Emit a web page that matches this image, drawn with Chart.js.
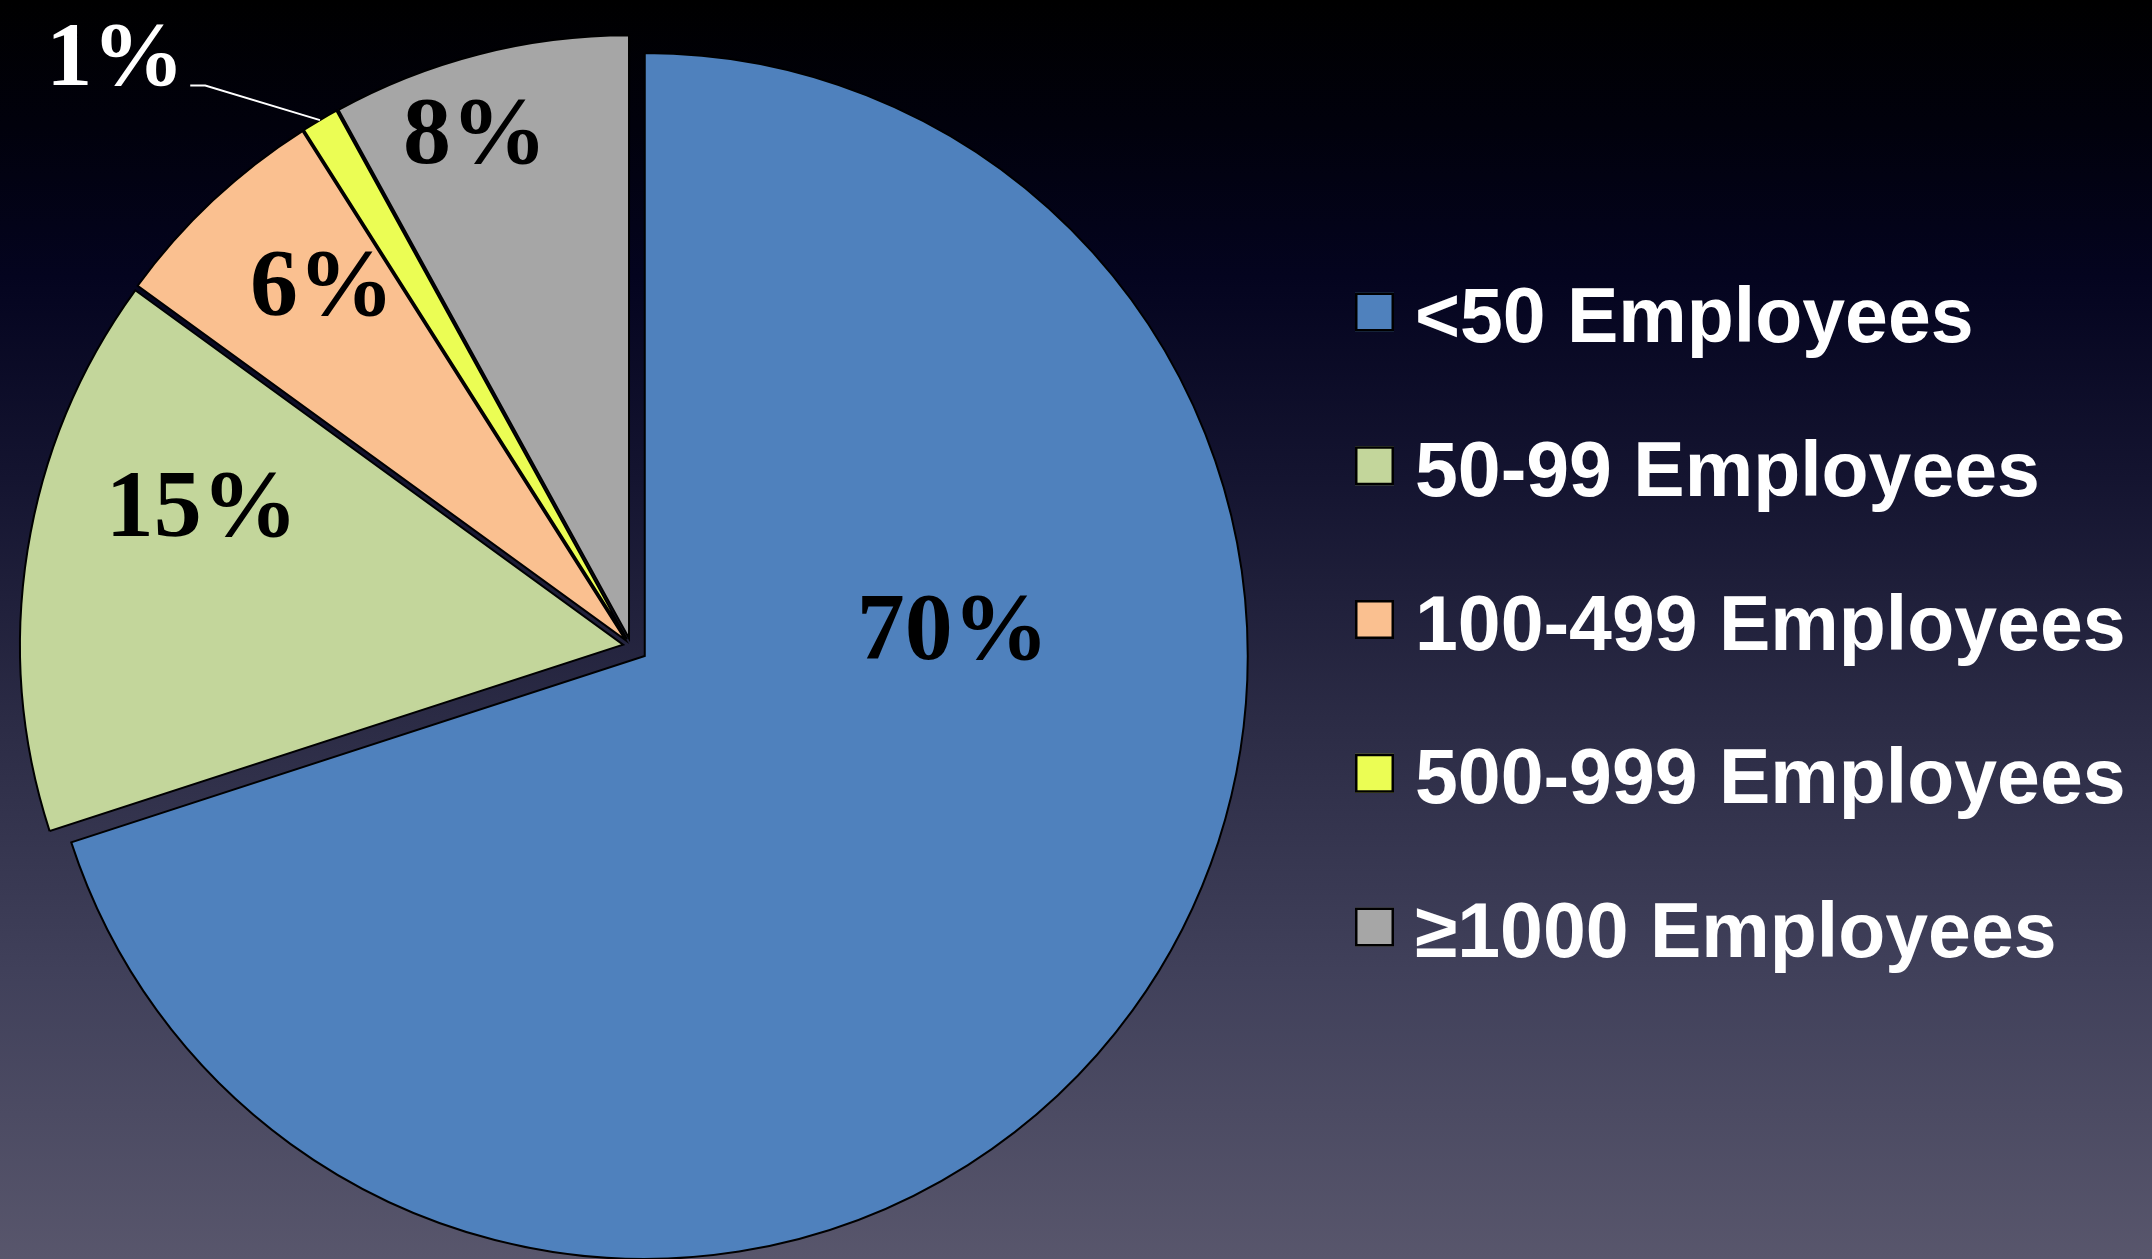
<!DOCTYPE html>
<html>
<head>
<meta charset="utf-8">
<title>Employer size</title>
<script src="https://cdn.jsdelivr.net/npm/chart.js@4.4.0/dist/chart.umd.min.js"></script>
<style>
  html, body { margin: 0; padding: 0; overflow: hidden; }
  body {
    width: 2152px;
    height: 1259px;
    background: linear-gradient(to bottom,
      #000000 0%, #01010c 10%, #04041f 22%, #141430 38%,
      #2b2b45 57%, #40405a 77%, #58566c 100%);
  }
  canvas { display: block; }
</style>
</head>
<body>
<canvas id="pie" width="2152" height="1259"></canvas>
<script>
const categories = ['<50 Employees', '50-99 Employees', '100-499 Employees', '500-999 Employees', '\u22651000 Employees'];
const shares = [70, 15, 6, 1, 8];

const sliceColors = ['#4f81bd', '#c3d69b', '#fac090', '#ebfd54', '#a6a6a6'];
// how far each slice is pulled out of the pie, px
const explode = [17, 8, 8, 8, 8];
// where the % text goes: fraction of the radius, angle shift from the slice middle (deg)
const labelSpots = [
  { r: 0.51, shift: -41.5 },
  { r: 0.74, shift: 9.4 },
  { r: 0.78, shift: 2.7 },
  { r: 1.154, shift: -6.7, leader: true },
  { r: 0.88, shift: -2.7 }
];

const legendBox = { left: 1355, top: 312, step: 153.75, size: 39, textX: 1415 };

const explodeSlices = {
  id: 'explodeSlices',
  afterDatasetsUpdate(chart) {
    chart.getDatasetMeta(0).data.forEach((arc, i) => {
      const mid = (arc.startAngle + arc.endAngle) / 2;
      arc.x += Math.cos(mid) * explode[i];
      arc.y += Math.sin(mid) * explode[i];
    });
  }
};

const sliceLabels = {
  id: 'sliceLabels',
  afterDatasetsDraw(chart) {
    const ctx = chart.ctx;
    chart.getDatasetMeta(0).data.forEach((arc, i) => {
      const spot = labelSpots[i];
      const mid = (arc.startAngle + arc.endAngle) / 2;
      const R = arc.outerRadius;
      const a = mid + spot.shift * Math.PI / 180;
      const x = arc.x + Math.cos(a) * R * spot.r;
      const y = arc.y + Math.sin(a) * R * spot.r;
      const text = shares[i] + '%';
      ctx.save();
      if (spot.leader) {
        const sx = arc.x + Math.cos(mid) * R;
        const sy = arc.y + Math.sin(mid) * R;
        const ex = x - 15;
        ctx.strokeStyle = '#ffffff';
        ctx.lineWidth = 2;
        ctx.beginPath();
        ctx.moveTo(sx, sy);
        ctx.lineTo(x, y);
        ctx.lineTo(ex, y);
        ctx.stroke();
        ctx.font = 'bold 92px "Liberation Serif", "Times New Roman", serif';
        ctx.fillStyle = '#ffffff';
        ctx.textAlign = 'right';
        ctx.textBaseline = 'alphabetic';
        ctx.fillText(text, ex - 6, y - 1);
      } else {
        ctx.font = 'bold 96px "Liberation Serif", "Times New Roman", serif';
        ctx.fillStyle = '#000000';
        ctx.textAlign = 'center';
        ctx.textBaseline = 'alphabetic';
        ctx.fillText(text, x + 2, y + 32);
      }
      ctx.restore();
    });
  }
};

const sideLegend = {
  id: 'sideLegend',
  afterDraw(chart) {
    const ctx = chart.ctx;
    const colors = chart.data.datasets[0].backgroundColor;
    chart.data.labels.forEach((label, i) => {
      const cy = legendBox.top + i * legendBox.step;
      const s = legendBox.size;
      ctx.save();
      ctx.fillStyle = colors[i];
      ctx.strokeStyle = '#000000';
      ctx.lineWidth = 2.5;
      ctx.fillRect(legendBox.left, cy - s / 2, s, s);
      ctx.strokeRect(legendBox.left + 1.25, cy - s / 2 + 1.25, s - 2.5, s - 2.5);
      ctx.font = 'bold 77px "Liberation Sans", Arial, sans-serif';
      ctx.fillStyle = '#ffffff';
      ctx.textAlign = 'left';
      ctx.textBaseline = 'alphabetic';
      ctx.fillText(label, legendBox.textX, cy + 30);
      ctx.restore();
    });
  }
};

new Chart(document.getElementById('pie'), {
  type: 'pie',
  data: {
    labels: categories,
    datasets: [{
      data: shares,
      backgroundColor: sliceColors,
      borderColor: '#000000',
      borderWidth: 2,
      borderJoinStyle: 'miter'
    }]
  },
  options: {
    responsive: false,
    animation: false,
    events: [],
    radius: 603,
    layout: { padding: { left: 0, right: 890, top: 33, bottom: 0 } },
    plugins: {
      legend: { display: false },
      tooltip: { enabled: false }
    }
  },
  plugins: [explodeSlices, sliceLabels, sideLegend]
});
</script>
</body>
</html>
